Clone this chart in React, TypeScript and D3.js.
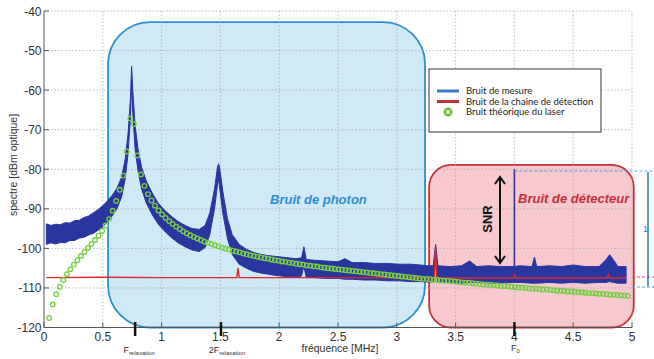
import React from "react";
import * as d3 from "d3";

const X_TICKS = [0, 0.5, 1, 1.5, 2, 2.5, 3, 3.5, 4, 4.5, 5];
const X_TICK_LABELS = ["0", "0.5", "1", "1.5", "2", "2.5", "3", "3.5", "4", "4.5", "5"];
const Y_TICKS = [-40, -50, -60, -70, -80, -90, -100, -110, -120];

// Measured noise band (frequency MHz, upper / lower envelope dBm)
const MEAS_F = [0.02, 0.06, 0.1, 0.14, 0.18, 0.22, 0.26, 0.3, 0.34, 0.38, 0.42, 0.46, 0.5, 0.54, 0.58, 0.62, 0.66, 0.69, 0.715, 0.735, 0.745, 0.755, 0.775, 0.8, 0.83, 0.87, 0.92, 0.97, 1.02, 1.08, 1.14, 1.2, 1.26, 1.32, 1.37, 1.41, 1.45, 1.475, 1.485, 1.495, 1.52, 1.56, 1.6, 1.66, 1.72, 1.78, 1.84, 1.9, 1.96, 2.02, 2.08, 2.14, 2.19, 2.21, 2.23, 2.3, 2.4, 2.5, 2.56, 2.62, 2.72, 2.82, 2.92, 3.02, 3.12, 3.2, 3.26, 3.31, 3.33, 3.35, 3.45, 3.55, 3.62, 3.68, 3.78, 3.88, 3.98, 4.05, 4.15, 4.17, 4.19, 4.3, 4.4, 4.5, 4.6, 4.72, 4.78, 4.81, 4.84, 4.88, 4.95];
const MEAS_HI = [-93.8, -94.2, -93.9, -94.0, -93.5, -93.6, -93.0, -92.9, -92.2, -91.8, -91.0, -90.2, -89.2, -88.0, -86.6, -84.8, -82.0, -77.5, -71.0, -62.0, -54.0, -60.0, -69.0, -75.0, -79.5, -83.0, -86.0, -88.5, -90.2, -91.8, -93.2, -94.2, -95.0, -95.2, -94.2, -91.0, -85.0, -79.5, -78.6, -80.0, -85.5, -92.5, -96.5, -99.0, -100.2, -101.0, -101.5, -101.8, -102.0, -102.2, -102.4, -102.6, -102.4, -99.6, -102.8, -103.0, -103.2, -103.4, -102.6, -103.6, -103.6, -103.8, -103.8, -104.0, -104.0, -104.2, -104.4, -104.4, -99.0, -104.4, -104.6, -104.4, -103.2, -104.6, -104.4, -104.6, -104.6, -104.4, -104.6, -102.2, -104.6, -104.4, -104.6, -104.2, -104.6, -104.6, -102.8, -101.6, -102.8, -104.6, -104.6];
const MEAS_LO = [-99.0, -98.6, -98.9, -98.5, -98.6, -98.0, -98.0, -97.4, -97.2, -96.6, -96.2, -95.4, -94.6, -93.2, -91.8, -90.0, -87.0, -82.5, -76.0, -67.0, -58.5, -66.0, -75.0, -80.5, -85.0, -88.5, -91.5, -93.8, -95.5, -97.2, -98.6, -99.6, -100.4, -100.8, -99.8, -96.5, -90.0, -84.0, -82.5, -85.0, -91.0, -97.5, -101.5, -104.0, -105.0, -105.8, -106.2, -106.5, -106.8, -107.0, -107.2, -107.2, -107.0, -104.5, -107.4, -107.4, -107.6, -107.6, -107.8, -107.8, -108.0, -108.0, -108.2, -108.2, -108.4, -108.4, -108.5, -108.5, -103.5, -108.5, -108.6, -108.8, -108.6, -108.6, -108.8, -108.8, -108.6, -108.6, -108.8, -108.8, -108.8, -108.6, -108.8, -108.6, -108.8, -108.6, -108.6, -108.4, -108.6, -108.8, -108.8];
const SPIKE_F = 4.0;
const SPIKE_TOP = -80;
const SPIKE_BASE = -104.6;

// Detection chain noise
const RED_F = [0.02, 0.5, 1.0, 1.64, 1.65, 1.66, 2.5, 3.32, 3.33, 3.34, 3.99, 4.0, 4.01, 4.79, 4.8, 4.81, 4.95];
const RED_V = [-107.4, -107.3, -107.4, -107.4, -105.0, -107.4, -107.4, -107.5, -99.5, -107.5, -107.5, -106.7, -107.5, -107.5, -106.7, -107.5, -107.5];

// Theoretical laser noise (markers every 0.03 MHz starting 0.044 MHz)
const LASER_F0 = 0.044;
const LASER_STEP = 0.03;
const LASER_V = [
  -117.6, -114.2, -111.6, -109.7, -108.0, -106.5, -105.3, -104.1, -103.0, -101.9,
  -100.9, -99.9, -98.9, -97.9, -96.8, -95.6, -94.2, -92.6, -90.5, -88.0,
  -85.2, -81.6, -75.5, -67.2, -68.6, -76.5, -81.3, -84.2, -86.3, -87.9,
  -89.2, -90.4, -91.4, -92.3, -93.1, -93.8, -94.5, -95.1, -95.7, -96.2,
  -96.7, -97.1, -97.5, -97.9, -98.3, -98.6, -98.9, -99.2, -99.5, -99.8,
  -100.1, -100.3, -100.6, -100.8, -101.0, -101.3, -101.5, -101.7, -101.9, -102.1,
  -102.3, -102.5, -102.6, -102.8, -103.0, -103.1, -103.3, -103.4, -103.6, -103.7,
  -103.9, -104.0, -104.1, -104.3, -104.4, -104.5, -104.6, -104.8, -104.9, -105.0,
  -105.1, -105.2, -105.3, -105.4, -105.5, -105.6, -105.7, -105.8, -105.9, -106.0,
  -106.1, -106.2, -106.3, -106.4, -106.5, -106.6, -106.7, -106.8, -106.9, -107.0,
  -107.1, -107.2, -107.3, -107.4, -107.5, -107.6, -107.7, -107.7, -107.8, -107.9,
  -108.0, -108.1, -108.2, -108.2, -108.3, -108.4, -108.5, -108.6, -108.7, -108.7,
  -108.8, -108.9, -109.0, -109.1, -109.2, -109.2, -109.3, -109.4, -109.5, -109.5,
  -109.6, -109.7, -109.8, -109.9, -109.9, -110.0, -110.1, -110.2, -110.2, -110.3,
  -110.4, -110.4, -110.5, -110.6, -110.7, -110.7, -110.8, -110.9, -110.9, -111.0,
  -111.1, -111.1, -111.2, -111.3, -111.3, -111.4, -111.5, -111.5, -111.6, -111.7,
  -111.7, -111.8, -111.9, -111.9, -112.0,
];

// Annotation regions, in data units
const PHOTON_BOX = { f0: 0.545, f1: 3.24, top: -42.8 };
const DETECT_BOX = { f0: 3.275, f1: 5.015, top: -78.9 };
const F_RELAX = 0.775;
const F_2RELAX = 1.505;
const F_0 = 4.0;

const LEGEND_ITEMS = ["Bruit de mesure", "Bruit de la chaine de détection", "Bruit théorique  du laser"];

const W = 654;
const H = 359;
const FONT = "'Liberation Sans', Arial, sans-serif";

export default function App() {
  const x = d3.scaleLinear().domain([0, 5]).range([44, 632]);
  const y = d3.scaleLinear().domain([-120, -40]).range([327.5, 11]);
  const y0 = y(-120);

  const bandArea = d3
    .area<number>()
    .x((i) => x(MEAS_F[i]))
    .y0((i) => y(MEAS_LO[i]))
    .y1((i) => y(MEAS_HI[i]))
    .curve(d3.curveLinear);
  const bandPath = bandArea(MEAS_F.map((_, i) => i)) || "";

  const redLine = d3
    .line<number>()
    .x((i) => x(RED_F[i]))
    .y((i) => y(RED_V[i]));
  const redPath = redLine(RED_F.map((_, i) => i)) || "";

  const laserPts = LASER_V.map((v, i) => ({ f: LASER_F0 + i * LASER_STEP, v }));

  const pb = { x: x(PHOTON_BOX.f0), x1: x(PHOTON_BOX.f1), y: y(PHOTON_BOX.top) };
  const db = { x: x(DETECT_BOX.f0), x1: x(DETECT_BOX.f1), y: y(DETECT_BOX.top) };

  const arrowX = 500;
  const arrowTop = 177;
  const arrowBot = 263;

  return (
    <div style={{ position: "absolute", left: 0, top: 0 }}>
      <svg width={W} height={H} viewBox={`0 0 ${W} ${H}`} style={{ display: "block", background: "#fff" }} fontFamily={FONT}>
        <rect x={0} y={0} width={W} height={H} fill="#fff" />
        {/* regions */}
        <rect x={pb.x} y={pb.y} width={pb.x1 - pb.x} height={y0 - pb.y} rx={42} ry={42} fill="#cfe9f7" stroke="#2d8fd2" strokeWidth={1.8} />
        <rect x={db.x} y={db.y} width={db.x1 - db.x} height={y0 - db.y} rx={22} ry={22} fill="#f7c8ce" stroke="#c6303a" strokeWidth={1.8} />

        {/* grid */}
        {X_TICKS.slice(1).map((t) => (
          <line key={"gx" + t} x1={x(t)} x2={x(t)} y1={y(-40)} y2={y0} stroke="#a9adb3" strokeWidth={0.8} strokeDasharray="1.5,2" />
        ))}
        {Y_TICKS.slice(0, -1).map((t) => (
          <line key={"gy" + t} x1={x(0)} x2={x(5)} y1={y(t)} y2={y(t)} stroke="#a9adb3" strokeWidth={0.8} strokeDasharray="1.5,2" />
        ))}

        {/* measured noise */}
        <path d={bandPath} fill="#2a36a0" stroke="#2a36a0" strokeWidth={1} strokeLinejoin="round" />
        <line x1={x(SPIKE_F)} x2={x(SPIKE_F)} y1={y(SPIKE_BASE)} y2={y(SPIKE_TOP)} stroke="#3336a0" strokeWidth={1.6} />

        {/* detection chain */}
        <path d={redPath} fill="none" stroke="#e0242a" strokeWidth={1.4} />

        {/* theoretical laser noise */}
        {laserPts.map((p, i) => (
          <circle key={"l" + i} cx={x(p.f)} cy={y(p.v)} r={2.3} fill="none" stroke="#76cf45" strokeWidth={1.3} />
        ))}

        {/* axes */}
        <line x1={x(0)} x2={x(0)} y1={y(-40)} y2={y0} stroke="#555" strokeWidth={1} />
        <line x1={x(0)} x2={x(5)} y1={y0} y2={y0} stroke="#555" strokeWidth={1} />
        {X_TICKS.map((t) => (
          <line key={"tx" + t} x1={x(t)} x2={x(t)} y1={y0} y2={y0 - 5} stroke="#555" strokeWidth={1} />
        ))}
        {Y_TICKS.map((t) => (
          <line key={"ty" + t} x1={x(0)} x2={x(0) + 5} y1={y(t)} y2={y(t)} stroke="#555" strokeWidth={1} />
        ))}
        {X_TICKS.map((t, i) => (
          <text key={"lx" + t} x={x(t)} y={340.5} fontSize={12} fill="#333" textAnchor="middle">
            {X_TICK_LABELS[i]}
          </text>
        ))}
        {Y_TICKS.map((t) => (
          <text key={"ly" + t} x={41.5} y={y(t) + 4.5} fontSize={12} fill="#333" textAnchor="end">
            {t}
          </text>
        ))}
        <text transform={`translate(17,165) rotate(-90)`} fontSize={10.5} fill="#333" textAnchor="middle">
          spectre [dBm optique]
        </text>
        <text x={340} y={352} fontSize={10.5} fill="#333" textAnchor="middle">
          fréquence [MHz]
        </text>

        {/* special frequency markers */}
        {[F_RELAX, F_2RELAX, F_0].map((f) => (
          <line key={"m" + f} x1={x(f)} x2={x(f)} y1={322} y2={336} stroke="#111" strokeWidth={2.5} />
        ))}
        <text x={x(F_RELAX) + 4} y={353} fontSize={9} fill="#333" textAnchor="middle">
          F<tspan fontSize={6} dy={1.5}>relaxation</tspan>
        </text>
        <text x={x(F_2RELAX) + 6} y={353} fontSize={9} fill="#333" textAnchor="middle">
          2F<tspan fontSize={6} dy={1.5}>relaxation</tspan>
        </text>
        <text x={x(F_0) + 1} y={351} fontSize={9} fill="#333" textAnchor="middle">
          F<tspan fontSize={6} dy={1.5}>0</tspan>
        </text>

        {/* region labels */}
        <text x={270} y={204} fontSize={13} fontWeight="bold" fontStyle="italic" fill="#2c8fd0">
          Bruit de photon
        </text>
        <text x={518} y={203} fontSize={13} fontWeight="bold" fontStyle="italic" fill="#c6303a">
          Bruit de détecteur
        </text>

        {/* SNR arrow */}
        <line x1={arrowX} x2={arrowX} y1={arrowTop + 1} y2={arrowBot - 1} stroke="#111" strokeWidth={2} />
        <polyline points={`${arrowX - 5},${arrowTop + 7} ${arrowX},${arrowTop} ${arrowX + 5},${arrowTop + 7}`} fill="none" stroke="#111" strokeWidth={2} />
        <polyline points={`${arrowX - 5},${arrowBot - 7} ${arrowX},${arrowBot} ${arrowX + 5},${arrowBot - 7}`} fill="none" stroke="#111" strokeWidth={2} />
        <text transform={`translate(492,219) rotate(-90)`} fontSize={13} fontWeight="bold" fill="#111" textAnchor="middle">
          SNR
        </text>

        {/* right-side measurement bracket */}
        <line x1={x(SPIKE_F)} x2={W} y1={171} y2={171} stroke="#5a9fd8" strokeWidth={1} strokeDasharray="3,2" />
        <line x1={632} x2={W} y1={277} y2={277} stroke="#e0505a" strokeWidth={1} strokeDasharray="3,2" />
        <line x1={632} x2={W} y1={287} y2={287} stroke="#5a9fd8" strokeWidth={1} strokeDasharray="3,2" />
        <line x1={648} x2={648} y1={172} y2={286} stroke="#2d7fcc" strokeWidth={1.6} />
        <text x={643} y={232} fontSize={9} fill="#2d7fcc">
          1
        </text>

        {/* legend */}
        <rect x={429} y={69} width={172} height={63} fill="#fff" stroke="#333" strokeWidth={1} />
        {LEGEND_ITEMS.map((label, i) => {
          const ly = 91 + i * 10.5;
          return (
            <g key={label}>
              {i === 0 && <line x1={437} x2={459} y1={ly} y2={ly} stroke="#3b7cc9" strokeWidth={3} />}
              {i === 1 && <line x1={437} x2={459} y1={ly} y2={ly} stroke="#c6303a" strokeWidth={3} />}
              {i === 2 && <circle cx={448} cy={ly} r={3.3} fill="none" stroke="#6cc13c" strokeWidth={2.4} />}
              <text x={466} y={ly + 3.3} fontSize={9.5} fill="#222" fontFamily="Lato, sans-serif">
                {label}
              </text>
            </g>
          );
        })}
      </svg>
    </div>
  );
}
